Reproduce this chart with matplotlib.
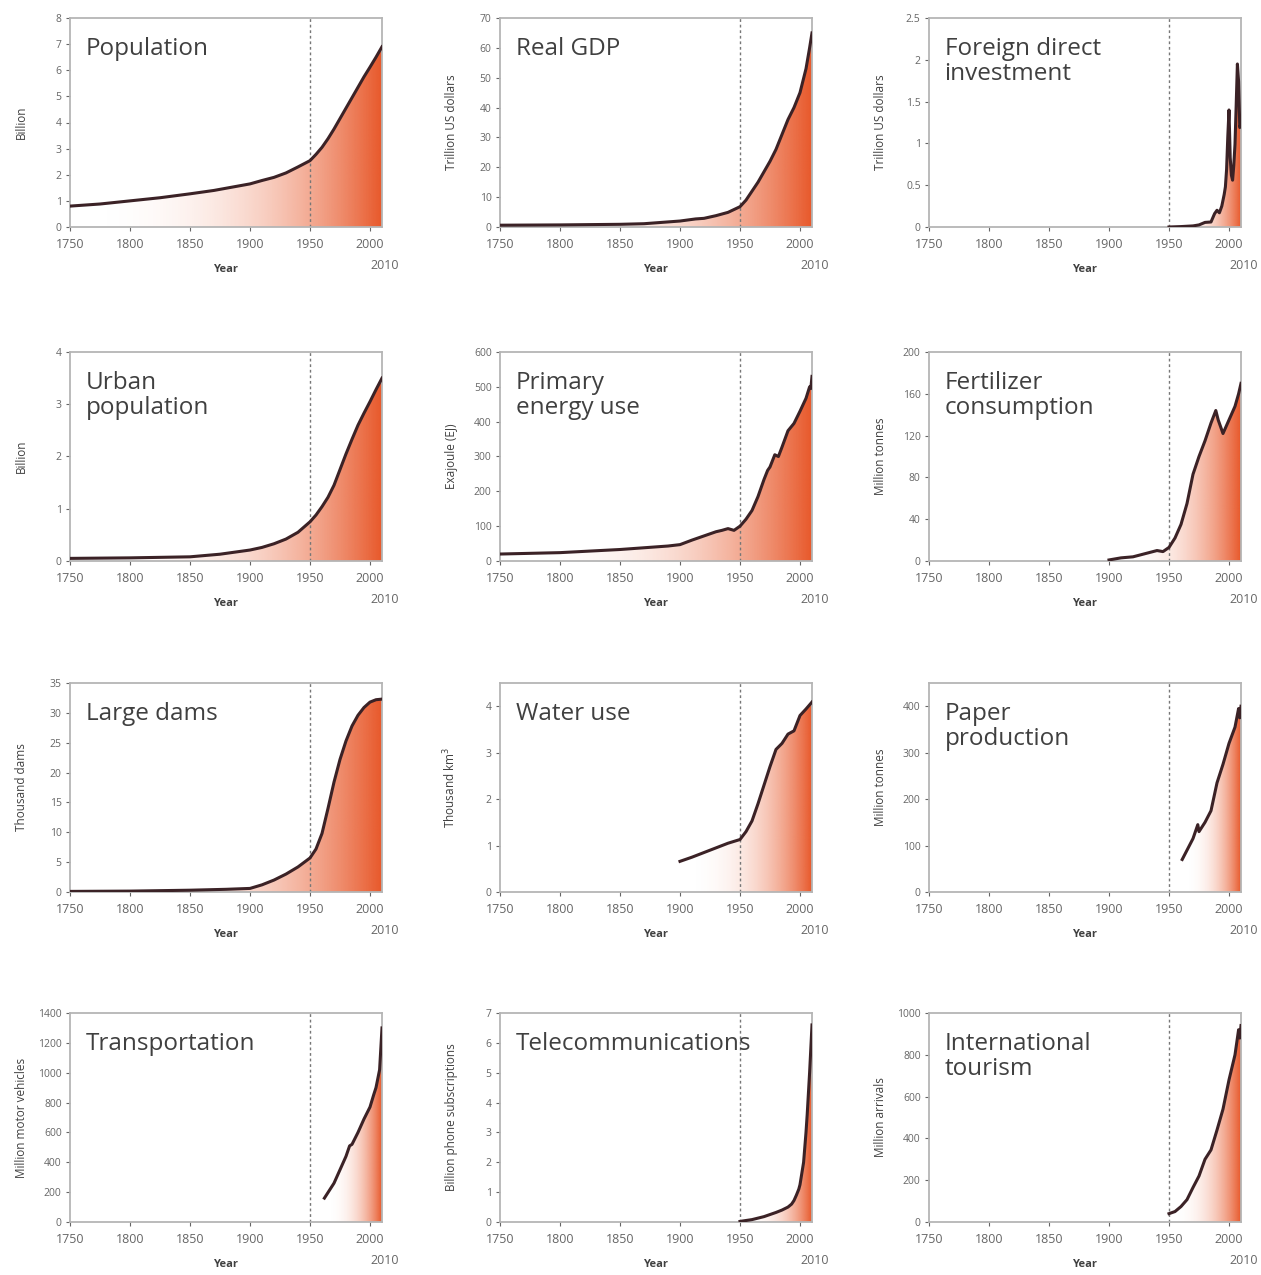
import matplotlib
matplotlib.use("Agg")
import matplotlib.pyplot as plt
import numpy as np
from matplotlib.colors import to_rgb

plt.rcParams['font.family'] = ['Open Sans', 'DejaVu Sans']

# Data (approximate)
pop_years = [1750, 1775, 1800, 1825, 1850, 1870, 1900, 1910, 1920, 1930, 1940, 1950, 1955, 1960,
             1965, 1970, 1975, 1980, 1985, 1990, 1995, 2000, 2005, 2010]
pop_vals = [0.8, 0.88, 1.0, 1.12, 1.27, 1.4, 1.65, 1.78, 1.9, 2.07, 2.3, 2.54, 2.78, 3.05,
            3.38, 3.75, 4.15, 4.55, 4.95, 5.35, 5.75, 6.12, 6.5, 6.9]

gdp_years = [1750, 1800, 1850, 1870, 1880, 1890, 1900, 1913, 1920, 1930, 1940, 1950, 1955, 1960,
             1965, 1970, 1975, 1980, 1985, 1990, 1995, 2000, 2005, 2008, 2010]
gdp_vals = [0.6, 0.7, 0.9, 1.1, 1.4, 1.7, 2.0, 2.7, 2.9, 3.8, 4.9, 6.8, 9, 12,
            15, 18.5, 22, 26, 31, 36, 40, 45, 53, 60, 65]

fdi_years = [1950, 1960, 1970, 1975, 1980, 1985, 1988, 1990, 1992, 1994, 1996, 1997, 1998, 1999,
             2000, 2001, 2002, 2003, 2004, 2005, 2006, 2007, 2008, 2009, 2010]
fdi_vals = [0.0, 0.005, 0.013, 0.025, 0.055, 0.06, 0.16, 0.2, 0.17, 0.25, 0.39, 0.48, 0.69, 1.08,
            1.4, 0.83, 0.62, 0.56, 0.74, 0.99, 1.46, 1.95, 1.74, 1.19, 1.24]

urban_years = [1750, 1800, 1850, 1875, 1900, 1910, 1920, 1930, 1940, 1950, 1955, 1960, 1965,
               1970, 1975, 1980, 1985, 1990, 1995, 2000, 2005, 2010]
urban_vals = [0.05, 0.06, 0.08, 0.13, 0.21, 0.26, 0.33, 0.42, 0.55, 0.75, 0.88, 1.04, 1.22,
              1.45, 1.75, 2.05, 2.33, 2.6, 2.83, 3.05, 3.28, 3.5]

energy_years = [1750, 1800, 1850, 1870, 1890, 1900, 1910, 1920, 1930, 1935, 1940, 1945, 1950,
                1955, 1960, 1965, 1970, 1973, 1975, 1979, 1982, 1985, 1990, 1995, 2000, 2005,
                2008, 2009, 2010]
energy_vals = [20, 24, 33, 38, 43, 47, 60, 72, 84, 88, 93, 88, 100,
               120, 145, 185, 234, 260, 270, 305, 300, 327, 374, 395, 430, 467,
               500, 495, 530]

fert_years = [1900, 1910, 1920, 1930, 1940, 1945, 1950, 1955, 1960, 1965, 1970, 1975, 1980,
              1985, 1989, 1991, 1995, 2000, 2005, 2008, 2010]
fert_vals = [1, 3, 4, 7, 10, 9, 13, 22, 35, 55, 83, 100, 115, 132, 144, 135, 122, 135, 148, 160, 170]

dams_years = [1750, 1800, 1850, 1880, 1900, 1910, 1920, 1930, 1940, 1950, 1955, 1960, 1965,
              1970, 1975, 1980, 1985, 1990, 1995, 2000, 2005, 2010]
dams_vals = [0.1, 0.15, 0.3, 0.45, 0.6, 1.2, 2.0, 3.0, 4.2, 5.7, 7.2, 9.8, 14,
             18.4, 22.2, 25.3, 27.8, 29.6, 30.9, 31.8, 32.2, 32.3]

water_years = [1900, 1910, 1920, 1930, 1940, 1950, 1955, 1960, 1965, 1970, 1975, 1980, 1985,
               1990, 1995, 2000, 2005, 2010]
water_vals = [0.66, 0.75, 0.85, 0.95, 1.05, 1.13, 1.3, 1.53, 1.9, 2.3, 2.7, 3.07, 3.2, 3.4, 3.47,
              3.8, 3.94, 4.09]

paper_years = [1961, 1965, 1970, 1974, 1975, 1980, 1985, 1990, 1995, 2000, 2005, 2008, 2009, 2010]
paper_vals = [70, 90, 115, 145, 130, 150, 175, 235, 275, 320, 355, 395, 375, 400]

transp_years = [1962, 1970, 1975, 1980, 1983, 1985, 1990, 1995, 2000, 2003, 2005, 2008, 2010]
transp_vals = [160, 260, 350, 440, 510, 520, 600, 690, 770, 850, 900, 1020, 1300]

tele_years = [1950, 1960, 1970, 1980, 1985, 1990, 1993, 1995, 1997, 1999, 2000, 2001, 2002,
              2003, 2004, 2005, 2006, 2007, 2008, 2009, 2010]
tele_vals = [0.02, 0.08, 0.18, 0.32, 0.4, 0.5, 0.6, 0.72, 0.9, 1.1, 1.25, 1.5, 1.75,
             2.0, 2.5, 3.0, 3.6, 4.3, 5.0, 5.8, 6.6]

tour_years = [1950, 1955, 1960, 1965, 1970, 1975, 1980, 1985, 1990, 1995, 2000, 2005, 2008, 2009, 2010]
tour_vals = [40, 50, 74, 107, 165, 220, 300, 345, 440, 540, 680, 800, 920, 880, 940]

titles = ['Population', 'Real GDP', 'Foreign direct\ninvestment',
          'Urban\npopulation', 'Primary\nenergy use', 'Fertilizer\nconsumption',
          'Large dams', 'Water use', 'Paper\nproduction',
          'Transportation', 'Telecommunications', 'International\ntourism']
ylabels = ['Billion', 'Trillion US dollars', 'Trillion US dollars',
           'Billion', 'Exajoule (EJ)', 'Million tonnes',
           'Thousand dams', 'Thousand km$^3$', 'Million tonnes',
           'Million motor vehicles', 'Billion phone subscriptions', 'Million arrivals']
ytops = [8, 70, 2.5, 4, 600, 200, 35, 4.5, 450, 1400, 7, 1000]
ysteps = [1, 10, 0.5, 1, 100, 40, 5, 1, 100, 200, 1, 200]
series = [(pop_years, pop_vals), (gdp_years, gdp_vals), (fdi_years, fdi_vals),
          (urban_years, urban_vals), (energy_years, energy_vals), (fert_years, fert_vals),
          (dams_years, dams_vals), (water_years, water_vals), (paper_years, paper_vals),
          (transp_years, transp_vals), (tele_years, tele_vals), (tour_years, tour_vals)]
xticks = [1750, 1800, 1850, 1900, 1950, 2000]

W, H = 1261, 1275
fig = plt.figure(figsize=(W / 100, H / 100), dpi=100)

col_left = [70, 500, 929]
row_top = [18, 352, 683, 1013]
ax_w, ax_h = 312, 209

orange = np.array(to_rgb('#e8582a'))
text_col = '#404040'

for i, (title, ylab, ytop, ystep, (xs, ys)) in enumerate(zip(titles, ylabels, ytops, ysteps, series)):
    r, c = divmod(i, 3)
    left = col_left[c] / W
    bottom = 1 - (row_top[r] + ax_h) / H
    ax = fig.add_axes([left, bottom, ax_w / W, ax_h / H])

    xs = np.array(xs, dtype=float)
    ys = np.array(ys, dtype=float)

    # gradient fill under the curve
    x0 = xs[0]
    gx = np.linspace(x0, 2010, 400)
    frac = ((gx - x0) / (2010 - x0)) ** 2.6
    img = np.ones((2, len(gx), 4))
    img[..., :3] = orange
    img[..., 3] = frac
    poly = ax.fill_between(xs, 0, ys, facecolor='none', edgecolor='none')
    im = ax.imshow(img, extent=(x0, 2010, 0, ytop), aspect='auto', origin='lower', zorder=1)
    im.set_clip_path(poly.get_paths()[0], transform=ax.transData)

    ax.plot(xs, ys, color='#3b2226', lw=2.2, zorder=3, solid_joinstyle='round')
    ax.axvline(1950, color='#777777', lw=1, ls=(0, (2, 2)), zorder=2)

    ax.set_xlim(1750, 2010)
    ax.set_ylim(0, ytop)
    ax.set_xticks(xticks)
    yt = np.arange(0, ytop + 1e-9, ystep)
    ax.set_yticks(yt)
    ax.set_yticklabels(['%g' % v for v in yt])
    ax.tick_params(colors='#666666', length=3, width=0.8)
    ax.tick_params(axis='x', labelsize=9, pad=5)
    ax.tick_params(axis='y', labelsize=7.5, pad=3)
    for sp in ax.spines.values():
        sp.set_color('#b5b5b5')
        sp.set_linewidth(1.3)

    ax.set_xlabel('Year', fontsize=8, color=text_col, fontweight='bold')
    ax.xaxis.set_label_coords(0.5, -0.175)
    ax.set_ylabel(ylab, fontsize=8.5, color=text_col)
    ax.yaxis.set_label_coords(-0.135, 0.5)
    ax.annotate('2010', xy=(2010, 0), xycoords=('data', 'axes fraction'),
                xytext=(2, -23), textcoords='offset points', ha='center', va='top',
                fontsize=9, color='#666666')
    ax.text(0.05, 0.91, title, transform=ax.transAxes, ha='left', va='top',
            fontsize=17.5, color=text_col, linespacing=1.05, zorder=4)

fig.savefig('out.png', dpi=100)
